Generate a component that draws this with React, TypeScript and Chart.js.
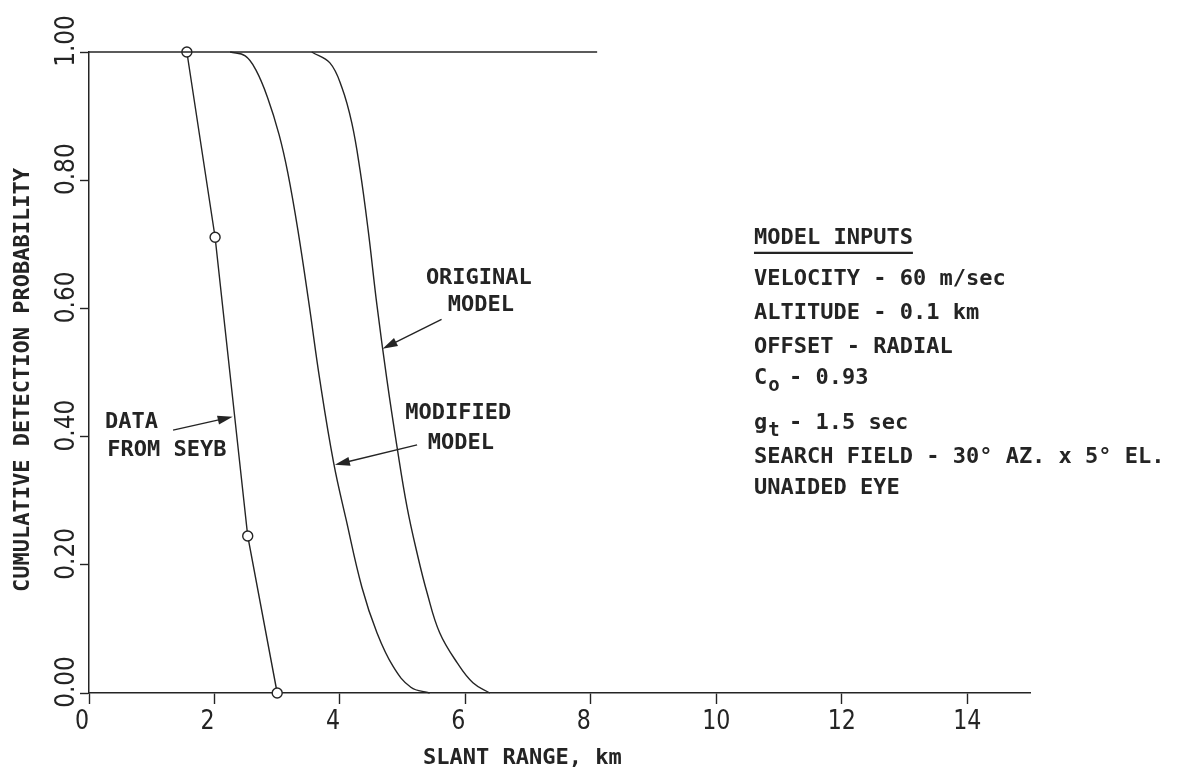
import React, { useEffect, useRef } from "react";
import { Chart, registerables } from "chart.js";

Chart.register(...registerables);

// ---------- data ----------
const X_TICKS = [0, 2, 4, 6, 8, 10, 12, 14];
const X_TICK_LABELS = ["0", "2", "4", "6", "8", "10", "12", "14"];
const Y_TICKS = [0, 0.2, 0.4, 0.6, 0.8, 1.0];
const Y_TICK_LABELS = ["0.00", "0.20", "0.40", "0.60", "0.80", "1.00"];

// horizontal line at P = 1
const CEILING_X = [0, 8.1];
const CEILING_Y = [1, 1];

// data from Seyb (open circles)
const SEYB_X = [1.56, 2.01, 2.53, 3.0];
const SEYB_Y = [1.0, 0.711, 0.245, 0.0];

// modified model
const MODIFIED_X = [2.25, 2.49, 2.66, 2.85, 3.03, 3.17, 3.33, 3.51, 3.68, 3.9, 4.1, 4.35, 4.59, 4.85, 5.13, 5.43];
const MODIFIED_Y = [1.0, 0.994, 0.972, 0.928, 0.871, 0.811, 0.722, 0.605, 0.488, 0.359, 0.27, 0.165, 0.094, 0.041, 0.009, 0.0];

// original model
const ORIGINAL_X = [3.55, 3.84, 4.03, 4.19, 4.32, 4.45, 4.59, 4.75, 4.91, 5.07, 5.23, 5.39, 5.59, 5.87, 6.12, 6.39];
const ORIGINAL_Y = [1.0, 0.983, 0.945, 0.889, 0.816, 0.722, 0.605, 0.488, 0.384, 0.29, 0.218, 0.156, 0.094, 0.047, 0.016, 0.0];

// model inputs block (text, y position in data units)
const INPUTS_TITLE = "MODEL INPUTS";
const INPUT_LINES = [
  "VELOCITY - 60 m/sec",
  "ALTITUDE - 0.1 km",
  "OFFSET - RADIAL",
  "C|o| - 0.93",
  "g|t| - 1.5 sec",
  "SEARCH FIELD - 30° AZ. x 5° EL.",
  "UNAIDED EYE",
];
const INPUT_LINE_Y = [0.646, 0.593, 0.54, 0.491, 0.421, 0.367, 0.32];
const INPUTS_X = 10.6;
const INPUTS_TITLE_Y = 0.71;

// curve labels with arrows (data units)
const LABELS = [
  { lines: ["ORIGINAL", "MODEL"], x: [5.37, 5.72], y: [0.647, 0.605], from: [5.62, 0.583], to: [4.68, 0.537] },
  { lines: ["MODIFIED", "MODEL"], x: [5.04, 5.4], y: [0.437, 0.39], from: [5.23, 0.387], to: [3.92, 0.356] },
  { lines: ["DATA", "FROM SEYB"], x: [0.255, 0.29], y: [0.423, 0.378], from: [1.34, 0.41], to: [2.29, 0.431] },
];

const X_TITLE = "SLANT RANGE, km";
const Y_TITLE = "CUMULATIVE DETECTION PROBABILITY";

const INK = "#242424";
const MONO = '"DejaVu Sans Mono", "Liberation Mono", monospace';
const NUM = '"DejaVu Sans", "Liberation Sans", sans-serif';

function pts(xs: number[], ys: number[]) {
  return xs.map((x, i) => ({ x, y: ys[i] }));
}

function drawArrow(ctx: CanvasRenderingContext2D, x1: number, y1: number, x2: number, y2: number) {
  const ang = Math.atan2(y2 - y1, x2 - x1);
  const hl = 15;
  const hw = 4.5;
  ctx.beginPath();
  ctx.moveTo(x1, y1);
  ctx.lineTo(x2 - Math.cos(ang) * hl * 0.8, y2 - Math.sin(ang) * hl * 0.8);
  ctx.stroke();
  ctx.beginPath();
  ctx.moveTo(x2, y2);
  ctx.lineTo(x2 - Math.cos(ang) * hl + Math.sin(ang) * hw, y2 - Math.sin(ang) * hl - Math.cos(ang) * hw);
  ctx.lineTo(x2 - Math.cos(ang) * hl - Math.sin(ang) * hw, y2 - Math.sin(ang) * hl + Math.cos(ang) * hw);
  ctx.closePath();
  ctx.fill();
}

const textPlugin = {
  id: "paperTexts",
  afterDraw(chart: any) {
    const ctx: CanvasRenderingContext2D = chart.ctx;
    const ca = chart.chartArea;
    const xs = chart.scales.x;
    const ys = chart.scales.y;
    const px = (v: number) => xs.getPixelForValue(v);
    const py = (v: number) => ys.getPixelForValue(v);
    ctx.save();
    ctx.fillStyle = INK;
    ctx.strokeStyle = INK;

    // y tick labels (rotated, narrow plotter-like digits)
    ctx.font = `400 27px ${NUM}`;
    ctx.textAlign = "center";
    ctx.textBaseline = "middle";
    Y_TICKS.forEach((v, i) => {
      ctx.save();
      ctx.translate(ca.left - 22, py(v) - 11);
      ctx.rotate(-Math.PI / 2);
      ctx.scale(0.86, 1);
      ctx.fillText(Y_TICK_LABELS[i], 0, 0);
      ctx.restore();
    });

    // x tick labels
    X_TICKS.forEach((v, i) => {
      const lab = X_TICK_LABELS[i];
      const off = lab.length === 1 ? -7 : 0;
      ctx.save();
      ctx.translate(px(v) + off, ca.bottom + 29);
      ctx.scale(0.82, 1);
      ctx.fillText(lab, 0, 0);
      ctx.restore();
    });

    // axis titles
    ctx.font = `bold 22px ${MONO}`;
    ctx.textAlign = "left";
    ctx.fillText(X_TITLE, 423, ca.bottom + 65);
    ctx.save();
    ctx.translate(ca.left - 66, 380);
    ctx.rotate(-Math.PI / 2);
    ctx.textAlign = "center";
    ctx.fillText(Y_TITLE, 0, 0);
    ctx.restore();

    // model inputs
    ctx.textAlign = "left";
    const x0 = px(INPUTS_X);
    ctx.fillText(INPUTS_TITLE, x0, py(INPUTS_TITLE_Y));
    const w = ctx.measureText(INPUTS_TITLE).width;
    ctx.lineWidth = 2.2;
    ctx.beginPath();
    ctx.moveTo(x0, py(INPUTS_TITLE_Y) + 15);
    ctx.lineTo(x0 + w, py(INPUTS_TITLE_Y) + 15);
    ctx.stroke();
    INPUT_LINES.forEach((line, i) => {
      const y = py(INPUT_LINE_Y[i]);
      const parts = line.split("|");
      if (parts.length === 3) {
        ctx.font = `bold 22px ${MONO}`;
        ctx.fillText(parts[0], x0, y);
        const cw = ctx.measureText(parts[0]).width;
        ctx.font = `bold 19px ${MONO}`;
        ctx.fillText(parts[1], x0 + cw + 1, y + 8);
        ctx.font = `bold 22px ${MONO}`;
        ctx.fillText(parts[2], x0 + cw * 1.5 + 2, y);
      } else {
        ctx.font = `bold 22px ${MONO}`;
        ctx.fillText(line, x0, y);
      }
    });

    // curve labels and arrows
    ctx.font = `bold 22px ${MONO}`;
    ctx.lineWidth = 1.4;
    LABELS.forEach((lb) => {
      lb.lines.forEach((t, i) => ctx.fillText(t, px(lb.x[i]), py(lb.y[i])));
      drawArrow(ctx, px(lb.from[0]), py(lb.from[1]), px(lb.to[0]), py(lb.to[1]));
    });
    ctx.restore();
  },
};

export default function App() {
  const ref = useRef<HTMLCanvasElement | null>(null);
  useEffect(() => {
    document.body.style.margin = "0";
    document.body.style.background = "#ffffff";
    const canvas = ref.current;
    if (!canvas) return;
    const lineBase = {
      borderColor: INK,
      borderWidth: 1.4,
      pointRadius: 0,
      fill: false,
      clip: false as any,
    };
    const chart = new Chart(canvas, {
      type: "line",
      data: {
        datasets: [
          { ...lineBase, label: "P = 1", data: pts(CEILING_X, CEILING_Y), tension: 0 },
          { ...lineBase, label: "Original model", data: pts(ORIGINAL_X, ORIGINAL_Y), tension: 0.4 },
          { ...lineBase, label: "Modified model", data: pts(MODIFIED_X, MODIFIED_Y), tension: 0.4 },
          {
            ...lineBase,
            label: "Data from Seyb",
            data: pts(SEYB_X, SEYB_Y),
            tension: 0,
            pointRadius: 5,
            pointBackgroundColor: "#ffffff",
            pointBorderColor: INK,
            pointBorderWidth: 1.4,
          },
        ],
      },
      options: {
        animation: false,
        responsive: false,
        events: [],
        layout: { padding: { top: 52, right: 153, left: 0, bottom: 0 } },
        plugins: { legend: { display: false }, tooltip: { enabled: false }, title: { display: false } },
        scales: {
          x: {
            type: "linear",
            min: 0,
            max: 15,
            afterBuildTicks: (s: any) => {
              s.ticks = X_TICKS.map((v) => ({ value: v }));
            },
            afterFit: (s: any) => {
              s.height = 83;
            },
            ticks: { display: false },
            grid: { drawOnChartArea: false, drawTicks: true, tickLength: 11, tickColor: INK, tickWidth: 1.4 },
            border: { display: true, color: INK, width: 1.5 },
          },
          y: {
            type: "linear",
            min: 0,
            max: 1,
            afterBuildTicks: (s: any) => {
              s.ticks = Y_TICKS.map((v) => ({ value: v }));
            },
            afterFit: (s: any) => {
              s.width = 89;
            },
            ticks: { display: false },
            grid: { drawOnChartArea: false, drawTicks: true, tickLength: 9, tickColor: INK, tickWidth: 1.4 },
            border: { display: true, color: INK, width: 1.5 },
          },
        },
      },
      plugins: [textPlugin],
    } as any);
    return () => chart.destroy();
  }, []);
  return <canvas ref={ref} width={1183} height={776} style={{ display: "block" }} />;
}
